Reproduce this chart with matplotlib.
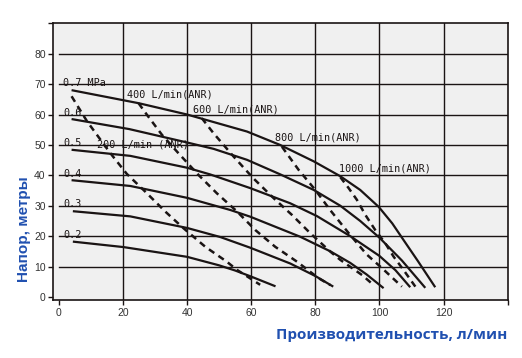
import matplotlib
matplotlib.use("Agg")
import matplotlib.pyplot as plt
import numpy as np

# Кривые давления (МПа): расход, л/мин -> напор, м
p_labels = ["0.7 MPa", "0.6", "0.5", "0.4", "0.3", "0.2"]
p_levels = [70, 60, 50, 40, 30, 20]

q07 = [4, 25, 40, 58.7, 69, 79.5, 87.8, 94, 99.8, 104, 107.6, 112, 117.4]
h07 = [68, 63.7, 60, 54.4, 50, 44.6, 39.7, 35.2, 29.6, 24.2, 18.6, 11.8, 3.2]
q06 = [4, 22, 40, 48.3, 58.7, 69.1, 79.5, 87.8, 94, 100, 107, 114.3]
h06 = [58.5, 55.2, 50.8, 48.7, 45.1, 40.3, 35.2, 30.0, 25.0, 19.5, 12, 3]
q05 = [4, 22.3, 40, 47.2, 59.7, 72.2, 80.5, 90.9, 100, 105, 109.6]
h05 = [48.4, 46.4, 42.5, 40.3, 35.8, 30.8, 26.6, 20.0, 13.5, 8.8, 3.2]
q04 = [4, 22.3, 40, 53.5, 59.7, 75.3, 84.7, 90.9, 96, 101.3]
h04 = [38.4, 36.5, 32.6, 28.6, 26.4, 19.8, 15.0, 11.2, 7.4, 2.9]
q03 = [4.4, 22.3, 40, 50.4, 59.7, 72.2, 80, 85.6]
h03 = [28.2, 26.5, 22.7, 19.7, 16.2, 11.0, 6.9, 3.4]
q02 = [4.4, 20.2, 40, 50, 55, 60, 67.6]
h02 = [18.2, 16.4, 13.2, 10.4, 8.7, 6.7, 3.5]

# Линии расхода воздуха (пунктир)
q200 = [4, 8.8, 16, 21.2, 27, 33.2, 38.9, 45.7, 52.4, 55.6, 62.8]
h200 = [66, 57.8, 47.4, 40.5, 34.6, 28.1, 22.6, 16.5, 11.6, 8.9, 4.0]
q400 = [24.9, 27.5, 32.2, 37.3, 43.6, 49.3, 55.6, 61.3, 67.5, 74.3, 81, 84.7]
h400 = [63.7, 59.9, 53.3, 47.3, 40.1, 34.1, 28.1, 22, 16.5, 11.6, 6.2, 3.9]
q600 = [44.6, 48.3, 54.5, 60.7, 67, 72.7, 78.4, 84.7, 87.8, 94.6, 98.2]
h600 = [58.8, 53.8, 46.2, 39, 32.5, 27, 21, 14.9, 12.2, 7.2, 3.9]
q800 = [69.6, 74.8, 80, 84.7, 90.4, 96, 101.3, 107]
h800 = [49.4, 41.8, 35.2, 28.5, 21, 14, 9, 3.4]
q1000 = [87.8, 90.4, 93, 95.6, 98.7, 101.8, 104.4, 107.5, 111.2]
h1000 = [39.4, 35.8, 31.9, 27, 22, 17.7, 13.3, 8.9, 3.4]

air_labels = ["200 L/min (ANR)", "400 L/min(ANR)", "600 L/min(ANR)",
              "800 L/min(ANR)", "1000 L/min(ANR)"]
air_label_pos = [(11.9, 49.0), (21.2, 65.6), (41.8, 60.7), (67.5, 51.5), (87.3, 41.1)]

xticks = [0, 20, 40, 60, 80, 100, 120, 140]
yticks = [0, 10, 20, 30, 40, 50, 60, 70, 80, 90]

ink = "#1a1414"
blue = "#2050b0"

fig = plt.figure(figsize=(5.22, 3.58), dpi=100)
ax = fig.add_axes([0.1021, 0.162, 0.8705, 0.773])
ax.set_facecolor("#f0f0f0")
ax.set_xlim(-1.7, 140)
ax.set_ylim(-1, 90)

# сетка
for yv in yticks[1:-1]:
    ax.plot([0, 140], [yv, yv], color=ink, lw=1.0, zorder=1)
for xv in xticks[1:-1]:
    ax.plot([xv, xv], [-1, 90], color=ink, lw=1.0, zorder=1)

for q, h in [(q07, h07), (q06, h06), (q05, h05), (q04, h04), (q03, h03), (q02, h02)]:
    ax.plot(q, h, color=ink, lw=1.6, zorder=3, solid_capstyle="butt",
            solid_joinstyle="round")

for q, h in [(q200, h200), (q400, h400), (q600, h600), (q800, h800), (q1000, h1000)]:
    ax.plot(q, h, color=ink, lw=1.8, dashes=(2.6, 2.0), zorder=3)

mono = dict(family="DejaVu Sans Mono", fontsize=7.3, color=ink, zorder=4)
for lab, lev in zip(p_labels, p_levels):
    ax.text(1.4, lev - 0.5, lab, va="baseline", ha="left", **mono)
for lab, (xx, yy) in zip(air_labels, air_label_pos):
    ax.text(xx, yy, lab, va="baseline", ha="left", **mono)

for s in ax.spines.values():
    s.set_color(ink)
    s.set_linewidth(1.2)

ax.set_xticks(xticks)
ax.set_xticklabels([str(v) for v in xticks[:-1]] + [""])
ax.set_yticks(yticks)
ax.set_yticklabels([str(v) for v in yticks[:-1]] + [""])
ax.tick_params(direction="out", length=3.5, width=1.0, color=ink,
               labelsize=7.5, labelcolor="#333333", pad=2)
for t in ax.get_xticklabels() + ax.get_yticklabels():
    t.set_family("Liberation Sans")

fig.text(0.9726, 0.052, "Производительность, л/мин", ha="right", va="baseline",
         family="Open Sans", weight="bold", fontsize=11, color=blue)
fig.text(0.046, 0.36, "Напор, метры", rotation=90, ha="center", va="center",
         family="Liberation Sans", weight="bold", fontsize=11, color=blue)

fig.savefig("out.png", dpi=100)
